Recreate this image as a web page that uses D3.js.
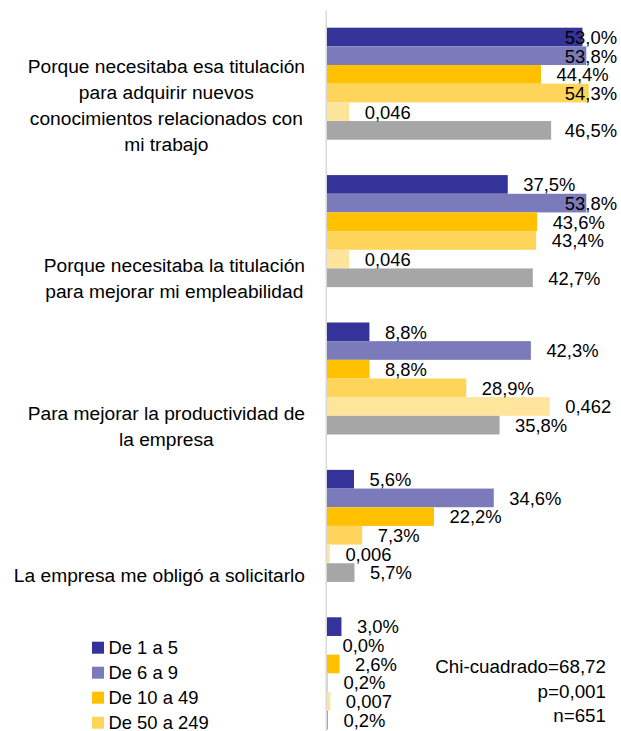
<!DOCTYPE html>
<html><head><meta charset="utf-8">
<script src="https://cdn.jsdelivr.net/npm/d3@7"></script>
<style>
html,body{margin:0;padding:0;background:#fff;}
svg{display:block;font-family:"Liberation Sans",Arial,sans-serif;}
</style></head>
<body>
<svg id="chart" width="621" height="731"></svg>
<script>
// ---- data ----
const categories = [
  "Porque necesitaba esa titulación\npara adquirir nuevos\nconocimientos relacionados con\nmi trabajo",
  "Porque necesitaba la titulación\npara mejorar mi empleabilidad",
  "Para mejorar la productividad de\nla empresa",
  "La empresa me obligó a solicitarlo",
  ""
];
const seriesNames = ["De 1 a 5", "De 6 a 9", "De 10 a 49", "De 50 a 249", "De 250 o más", "Total"];
const s1 = [0.530, 0.375, 0.088, 0.056, 0.030];
const s2 = [0.538, 0.538, 0.423, 0.346, 0.000];
const s3 = [0.444, 0.436, 0.088, 0.222, 0.026];
const s4 = [0.543, 0.434, 0.289, 0.073, 0.002];
const s5 = [0.046, 0.046, 0.462, 0.006, 0.007];
const s6 = [0.465, 0.427, 0.358, 0.057, 0.002];
const seriesValues = [s1, s2, s3, s4, s5, s6];
const seriesColors = ["#333399", "#7b7bbb", "#ffc000", "#ffd45a", "#ffe59b", "#a6a6a6"];
const seriesFormat = ["pct", "pct", "pct", "pct", "dec", "pct"];
const legendCount = 4;
const statsLines = ["Chi-cuadrado=68,72", "p=0,001", "n=651"];

// ---- layout ----
const svg = d3.select("#chart");
const fsNum = 18.4, fsCat = 19.2, lineH = 25.8;
const x = d3.scaleLinear().domain([0, 0.6]).range([327, 616.2]);
const y0 = d3.scaleBand().domain(d3.range(categories.length)).range([10, 747]).paddingInner(0.24).paddingOuter(0.12);
const y1 = d3.scaleBand().domain(d3.range(seriesNames.length)).range([0, y0.bandwidth()]).padding(0);

const fmt = (v, k) => k === "pct" ? (v * 100).toFixed(1).replace(".", ",") + "%" : v.toFixed(3).replace(".", ",");

// bars
const groups = svg.append("g").selectAll("g").data(categories).join("g")
  .attr("transform", (d, i) => `translate(0,${y0(i)})`);
groups.each(function(c, ci) {
  const g = d3.select(this);
  seriesValues.forEach((vals, si) => {
    g.append("rect")
      .attr("x", x(0)).attr("y", y1(si))
      .attr("width", x(vals[ci]) - x(0)).attr("height", y1.bandwidth())
      .attr("fill", seriesColors[si]);
  });
});

// axis line
svg.append("line").attr("x1", x(0) - 0.75).attr("x2", x(0) - 0.75)
  .attr("y1", 10).attr("y2", 731).attr("stroke", "#d9d9d9").attr("stroke-width", 1.5);

// data labels
groups.each(function(c, ci) {
  const g = d3.select(this);
  seriesValues.forEach((vals, si) => {
    const t = g.append("text")
      .attr("y", y1(si) + y1.bandwidth() / 2).attr("dy", "0.37em")
      .attr("font-size", fsNum).attr("fill", "#000")
      .text(fmt(vals[ci], seriesFormat[si]));
    const w = t.node().getComputedTextLength();
    t.attr("x", Math.min(x(vals[ci]) + 15.5, 617 - w));
  });
});

// category labels
const catRight = 305;
categories.forEach((c, ci) => {
  if (!c) return;
  const lines = c.split("\n");
  const g = svg.append("g").attr("font-size", fsCat).attr("fill", "#000");
  const ts = lines.map(l => g.append("text").text(l));
  const maxW = d3.max(ts, t => t.node().getComputedTextLength());
  const bandCenter = y0(ci) + y0.bandwidth() / 2;
  let lastBase = bandCenter + 56 + (lines.length - 1) * lineH / 2;
  lastBase = Math.min(lastBase, y0(ci) + y0.bandwidth() + 11);
  ts.forEach((t, li) => {
    t.attr("x", catRight - maxW / 2).attr("text-anchor", "middle")
     .attr("y", lastBase - (lines.length - 1 - li) * lineH);
  });
});

// legend
const leg = svg.append("g");
seriesNames.slice(0, legendCount).forEach((n, i) => {
  const cy = 647.7 + i * 25;
  leg.append("rect").attr("x", 92).attr("y", cy - 6).attr("width", 12).attr("height", 12).attr("fill", seriesColors[i]);
  leg.append("text").attr("x", 108.5).attr("y", cy).attr("dy", "0.36em").attr("font-size", fsNum).text(n);
});

// stats
statsLines.forEach((s, i) => {
  svg.append("text").attr("x", 606).attr("y", 673.3 + i * 24.5)
    .attr("text-anchor", "end").attr("font-size", 18.8).text(s);
});
</script>
</body></html>
